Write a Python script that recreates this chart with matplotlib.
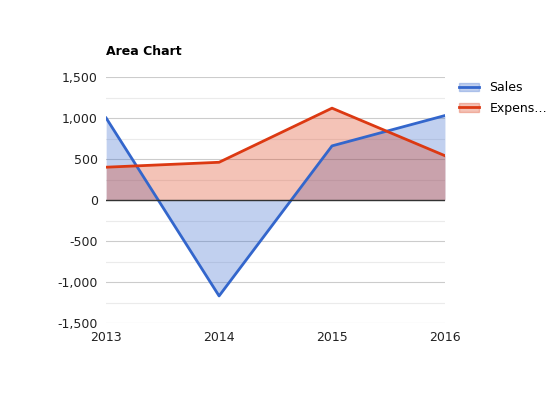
import matplotlib
matplotlib.use("Agg")
import matplotlib.pyplot as plt
from matplotlib.patches import Patch
from matplotlib.lines import Line2D

years = ["2013", "2014", "2015", "2016"]
sales = [1000, -1170, 660, 1030]
expenses = [400, 460, 1120, 540]

fig = plt.figure(figsize=(5.5, 4), dpi=100)
ax = fig.add_axes([0.193, 0.1925, 0.616, 0.615])
x = list(range(len(years)))
c1, c2 = "#3366cc", "#dc3912"
ax.fill_between(x, sales, 0, color=c1, alpha=0.3, lw=0)
ax.fill_between(x, expenses, 0, color=c2, alpha=0.3, lw=0)
ax.plot(x, sales, color=c1, lw=2)
ax.plot(x, expenses, color=c2, lw=2)
ax.set_xlim(0, 3)
ax.set_ylim(-1500, 1500)
ax.set_xticks(x)
ax.set_xticklabels(years)
ticks = [-1500, -1000, -500, 0, 500, 1000, 1500]
ax.set_yticks(ticks)
ax.set_yticklabels([f"{t:,}".replace("-", "-") for t in ticks])
for v in range(-1500, 1501, 250):
    ax.axhline(v, color="#cccccc" if v % 500 == 0 else "#ebebeb", lw=0.8, zorder=0)
ax.axhline(0, color="#333333", lw=1, zorder=3)
for s in ax.spines.values():
    s.set_visible(False)
ax.tick_params(length=0, labelsize=9, colors="#222222", pad=6)
ax.set_axisbelow(True)
fig.text(0.193, 0.862, "Area Chart", fontsize=9, fontweight="bold", ha="left")
handles = [(Patch(color=c1, alpha=0.3), Line2D([], [], color=c1, lw=2)),
           (Patch(color=c2, alpha=0.3), Line2D([], [], color=c2, lw=2))]
from matplotlib.legend_handler import HandlerTuple
fig.legend(handles, ["Sales", "Expens…"], loc="upper left", bbox_to_anchor=(0.815, 0.825),
           frameon=False, fontsize=9, handler_map={tuple: HandlerTuple(ndivide=1)},
           handlelength=1.6, labelspacing=0.6)
fig.savefig("out.png", dpi=100)
